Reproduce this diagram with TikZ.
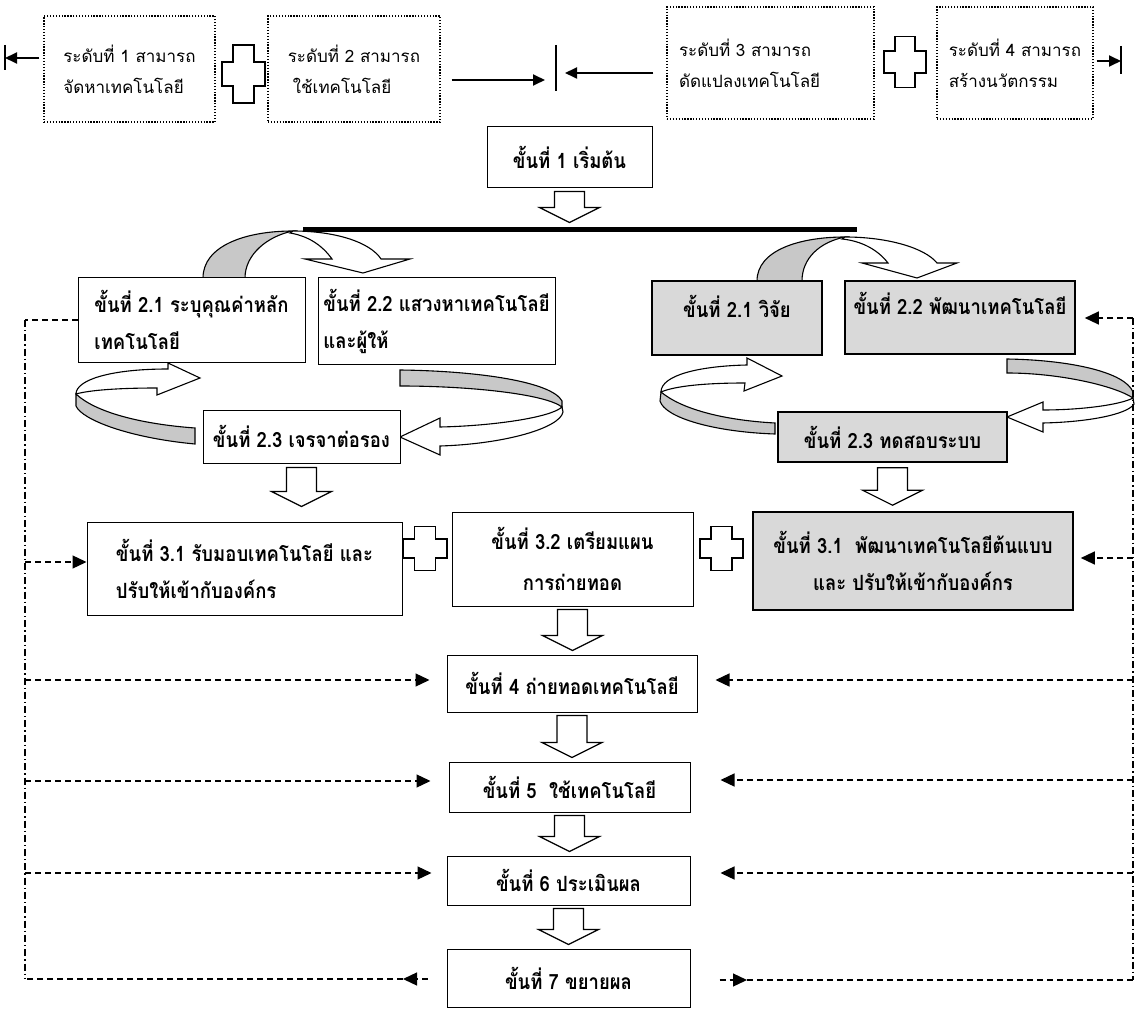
\documentclass[tikz,border=0pt]{standalone}
\usepackage{fontspec}
\newfontfamily\thaisans[Script=Thai]{Loma}
\newfontfamily\thaibold[Script=Thai,FakeStretch=0.88]{Loma}
\usetikzlibrary{arrows.meta,calc}
\definecolor{boxgray}{RGB}{217,217,217}
\definecolor{ribbongray}{RGB}{200,200,200}

\tikzset{
  stepbox/.style={draw, line width=1pt, fill=white, inner sep=0pt, align=left,
    font=\thaibold\bfseries\fontsize{21}{37}\selectfont},
  shadedbox/.style={stepbox, fill=boxgray, line width=1.6pt},
  levelbox/.style={draw, line width=1.3pt, dash pattern=on 1.3pt off 1.6pt,
    inner sep=0pt, align=left, font=\thaisans\fontsize{17}{31}\selectfont},
  levelarrow/.style={line width=1.8pt, -{Triangle[length=12pt,width=11pt]}},
  levelbar/.style={line width=1.8pt},
  plusmark/.style={draw, line width=1.6pt, fill=white, line join=miter},
  blockarrow/.style={draw, line width=1.2pt, fill=white, line join=miter},
  ribbonface/.style={draw, line width=1.1pt, fill=white},
  ribbonback/.style={draw, line width=1.1pt, fill=ribbongray},
  feedback/.style={line width=1.3pt, dash pattern=on 6pt off 4pt},
  feedarrow/.style={feedback, -{Triangle[length=14pt,width=13pt]}},
  spine/.style={line width=1.3pt, dash pattern=on 7pt off 3pt on 1.3pt off 3pt},
}

% plus sign: name, centre x, centre y, width, height
\newcommand\plusat[5]{%
  \coordinate (#1) at (#2,#3);
  \draw[plusmark]
    ({#2-#4/2},{#3-#5*0.21}) -- ({#2-#4*0.24},{#3-#5*0.21}) --
    ({#2-#4*0.24},{#3-#5/2}) -- ({#2+#4*0.24},{#3-#5/2}) --
    ({#2+#4*0.24},{#3-#5*0.21}) -- ({#2+#4/2},{#3-#5*0.21}) --
    ({#2+#4/2},{#3+#5*0.21}) -- ({#2+#4*0.24},{#3+#5*0.21}) --
    ({#2+#4*0.24},{#3+#5/2}) -- ({#2-#4*0.24},{#3+#5/2}) --
    ({#2-#4*0.24},{#3+#5*0.21}) -- ({#2-#4/2},{#3+#5*0.21}) -- cycle;}

% hollow block arrow pointing down, from the point #1 to the level of #2
\newcommand\blockdown[2]{%
  \draw[blockarrow] let \p1=(#1), \p2=(#2) in
    (\x1-15pt,\y1) -- (\x1+15pt,\y1) -- (\x1+15pt,\y2+15pt) --
    (\x1+30pt,\y2+15pt) -- (\x1,\y2) -- (\x1-30pt,\y2+15pt) --
    (\x1-15pt,\y2+15pt) -- cycle;}

\begin{document}
\begin{tikzpicture}[x=1pt,y=-1pt]
\useasboundingbox (0,0) rectangle (1136,1011);

% ---------- capability levels ----------
\node[levelbox, minimum width=171pt, minimum height=106pt] (lv1) at (129.5,69)
  {ระดับที่ 1 สามารถ\\จัดหาเทคโนโลยี};
\node[levelbox, minimum width=172pt, minimum height=106pt] (lv2) at (354,69)
  {ระดับที่ 2 สามารถ\\\hspace{5pt}ใช้เทคโนโลยี};
\node[levelbox, minimum width=207pt, minimum height=112pt, text width=183pt] (lv3) at (770.5,63)
  {ระดับที่ 3 สามารถ\\ดัดแปลงเทคโนโลยี};
\node[levelbox, minimum width=156pt, minimum height=112pt] (lv4) at (1015,63)
  {ระดับที่ 4 สามารถ\\สร้างนวัตกรรม};

\plusat{p1}{243.5}{74}{43}{58}
\plusat{p2}{905}{62}{42}{51}

\coordinate (e1) at (5,58);
\coordinate (m1) at (545,80);
\coordinate (mid) at (556,68);
\coordinate (m2) at (565,73);
\coordinate (e4) at (1121,61);
\draw[levelarrow, shorten <=4pt] (lv1.west |- e1) -- (e1);
\draw[levelbar] (e1) ++(0,-13) -- ++(0,25);
\draw[levelarrow, shorten <=11pt] (lv2.east |- m1) -- (m1);
\draw[levelbar] (mid) ++(0,-23) -- ++(0,46);
\draw[levelarrow, shorten <=13pt] (lv3.west |- m2) -- (m2);
\draw[levelarrow, shorten <=3pt] (lv4.east |- e4) -- (e4);
\draw[levelbar] (e4) ++(0,-15) -- ++(0,28);

% ---------- curved arrows between the stage-2 boxes ----------
% left group, over the top
\draw[ribbonback] (203,278) .. controls (203,246) and (245,231) .. (293,231)
  .. controls (268,236) and (245,254) .. (245,278) -- cycle;
\draw[ribbonface] (293,231) .. controls (335,231) and (370,242) .. (381,259)
  -- (410,259) -- (363,273) -- (305,259) -- (332,259)
  .. controls (322,245) and (308,236) .. (290,233) -- cycle;
% right group, over the top
\draw[ribbonback] (757,281) .. controls (757,250) and (800,237) .. (845,237)
  .. controls (820,242) and (802,258) .. (802,281) -- cycle;
\draw[ribbonface] (845,237) .. controls (888,237) and (925,248) .. (937,263)
  -- (957,263) -- (917,278) -- (862,263) -- (888,263)
  .. controls (878,250) and (862,241) .. (842,239) -- cycle;
% left group, turning on the left
\draw[ribbonback] (76,394) .. controls (95,412) and (140,424) .. (195,428)
  -- (195,444) .. controls (130,438) and (82,420) .. (76,406) -- cycle;
\draw[ribbonface] (157,388) -- (157,395) -- (200,378) -- (168,363) -- (168,369)
  .. controls (110,369) and (76,380) .. (76,394)
  .. controls (90,390) and (120,388) .. (157,388) -- cycle;
% left group, turning on the right
\draw[ribbonback] (400,370) .. controls (480,371) and (552,382) .. (562,401)
  -- (562,407) .. controls (545,394) and (470,386) .. (400,386) -- cycle;
\draw[ribbonface] (562,407) .. controls (550,418) and (490,426) .. (440,427)
  -- (440,418) -- (400,437) -- (440,455) -- (440,446)
  .. controls (505,444) and (560,428) .. (563,412) -- cycle;
% right group, turning on the left
\draw[ribbonback] (661,392) .. controls (680,408) and (720,420) .. (775,423)
  -- (775,434) .. controls (715,432) and (665,418) .. (660,401) -- cycle;
\draw[ribbonface] (745,383) -- (744,391) -- (782,376) -- (747,358) -- (747,365)
  .. controls (700,366) and (661,375) .. (661,392)
  .. controls (675,386) and (705,383) .. (745,383) -- cycle;
% right group, turning on the right
\draw[ribbonback] (1007,359) .. controls (1070,360) and (1125,372) .. (1133,392)
  -- (1133,398) .. controls (1115,386) and (1060,373) .. (1007,373) -- cycle;
\draw[ribbonface] (1133,398) .. controls (1120,405) and (1080,410) .. (1043,410)
  -- (1043,402) -- (1007,417) -- (1043,432) -- (1043,423)
  .. controls (1090,422) and (1128,414) .. (1134,404) -- cycle;

% ---------- process steps ----------
\node[stepbox, minimum width=165pt, minimum height=61pt] (s1) at (569.5,157.5)
  {ขั้นที่ 1 เริ่มต้น};

\coordinate (barL) at (303,229.5);
\coordinate (barR) at (857,229.5);
\draw[line width=5pt] (barL) -- (barR);

\node[stepbox, minimum width=227pt, minimum height=84pt] (l21) at (191.5,320)
  {ขั้นที่ 2.1 ระบุคุณค่าหลัก\\เทคโนโลยี};
\node[stepbox, minimum width=237pt, minimum height=86pt] (l22) at (436.5,321)
  {ขั้นที่ 2.2 แสวงหาเทคโนโลยี\\และผู้ให้};
\node[shadedbox, minimum width=170pt, minimum height=74pt, text depth=24pt] (r21) at (737,318)
  {ขั้นที่ 2.1 วิจัย};
\node[shadedbox, minimum width=230pt, minimum height=73pt, text depth=28pt] (r22) at (960,317.5)
  {ขั้นที่ 2.2 พัฒนาเทคโนโลยี};

\node[stepbox, minimum width=197pt, minimum height=53pt] (l23) at (301.5,436.5)
  {ขั้นที่ 2.3 เจรจาต่อรอง};
\node[shadedbox, minimum width=229pt, minimum height=50pt] (r23) at (892.5,437)
  {ขั้นที่ 2.3 ทดสอบระบบ};

\node[stepbox, minimum width=315pt, minimum height=93pt] (l31) at (244.5,568.5)
  {ขั้นที่ 3.1 รับมอบเทคโนโลยี และ\\ปรับให้เข้ากับองค์กร};
\node[stepbox, minimum width=241pt, minimum height=94pt, align=center] (s32) at (572.5,559)
  {ขั้นที่ 3.2 เตรียมแผน\\[4pt]การถ่ายทอด};
\node[shadedbox, minimum width=320pt, minimum height=98pt, align=center] (r31) at (913,561)
  {ขั้นที่ 3.1\ \ พัฒนาเทคโนโลยีต้นแบบ\\และ ปรับให้เข้ากับองค์กร};

\plusat{p3}{425}{548.5}{44}{44}
\plusat{p4}{721.5}{548.5}{43}{44}

\node[stepbox, minimum width=250pt, minimum height=57pt] (s4) at (572,683.5)
  {ขั้นที่ 4 ถ่ายทอดเทคโนโลยี};
\node[stepbox, minimum width=241pt, minimum height=50pt] (s5) at (569.5,787)
  {ขั้นที่ 5\ \ ใช้เทคโนโลยี};
\node[stepbox, minimum width=243pt, minimum height=49pt] (s6) at (568.5,880.5)
  {ขั้นที่ 6 ประเมินผล};
\node[stepbox, minimum width=243pt, minimum height=58pt] (s7) at (568.5,978)
  {ขั้นที่ 7 ขยายผล};

% ---------- hollow arrows between steps ----------
\blockdown{$(s1.south)+(0,3)$}{$(s1.south |- barL)+(0,-7)$}
\blockdown{$(l23.south)+(0,4)$}{$(l31.north)+(0,-15)$}
\blockdown{$(r23.south)+(0,5)$}{$(r31.north)+(0,-6)$}
\blockdown{$(s32.south)+(0,3)$}{$(s4.north)+(0,-4)$}
\blockdown{$(s4.south)+(0,3)$}{$(s5.north)+(0,-4)$}
\blockdown{$(s5.south)+(0,3)$}{$(s6.north)+(0,-4)$}
\blockdown{$(s6.south)+(0,3)$}{$(s7.north)+(0,-4)$}

% ---------- feedback lines ----------
\coordinate (lt) at (25,320);
\coordinate (lb) at (25,979);
\coordinate (rt) at (1133,318);
\coordinate (rb) at (1133,980);
\draw[spine] (lt) -- (lb);
\draw[spine] (rt) -- (rb);

\coordinate (l3) at (25,562);
\coordinate (l4) at (25,680);
\coordinate (l5) at (25,781);
\coordinate (l6) at (25,873);
\coordinate (l7) at (403,979);
\draw[feedback] (l21.west) -- (lt);
\draw[feedarrow] (l3) -- (l3 -| l31.west);
\draw[feedarrow, shorten >=17pt] (l4) -- (l4 -| s4.west);
\draw[feedarrow, shorten >=18pt] (l5) -- (l5 -| s5.west);
\draw[feedarrow, shorten >=15pt] (l6) -- (l6 -| s6.west);
\draw[feedarrow, shorten <=19pt] (s7.west |- lb) -- (l7);
\draw[feedback] (l7) -- (lb);

\coordinate (r3) at (1133,558);
\coordinate (r4) at (1133,680);
\coordinate (r5) at (1133,780);
\coordinate (r6) at (1133,873);
\coordinate (r7) at (747,980);
\draw[feedarrow, shorten >=9pt] (rt) -- (rt -| r22.east);
\draw[feedarrow, shorten >=7pt] (r3) -- (r3 -| r31.east);
\draw[feedarrow, shorten >=18pt] (r4) -- (r4 -| s4.east);
\draw[feedarrow, shorten >=30pt] (r5) -- (r5 -| s5.east);
\draw[feedarrow, shorten >=30pt] (r6) -- (r6 -| s6.east);
\draw[feedarrow, shorten <=29pt] (s7.east |- rb) -- (r7);
\draw[feedback] (r7) -- (rb);
\end{tikzpicture}
\end{document}
